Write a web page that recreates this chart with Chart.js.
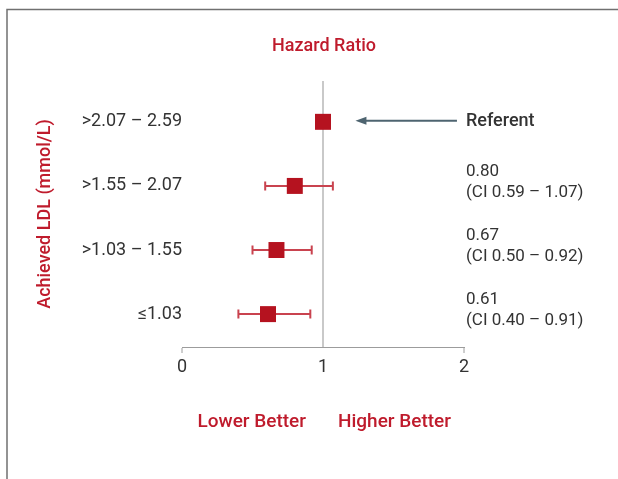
<!DOCTYPE html>
<html>
<head>
<meta charset="utf-8">
<title>Hazard Ratio by Achieved LDL</title>
<script src="https://cdn.jsdelivr.net/npm/chart.js@4"></script>
<style>
  html, body { margin: 0; padding: 0; background: #ffffff; }
  #wrap { position: relative; width: 618px; height: 479px; }
</style>
</head>
<body>
<div id="wrap"><canvas id="chart" width="618" height="479"></canvas></div>
<script>
// Achieved LDL groups, top row first
const categories = ['>2.07 – 2.59', '>1.55 – 2.07', '>1.03 – 1.55', '≤1.03'];
// Hazard ratio point estimates and 95% confidence limits
const hazardRatio = [1.00, 0.80, 0.67, 0.61];
const ciLow = [null, 0.59, 0.50, 0.40];
const ciHigh = [null, 1.07, 0.92, 0.91];
// Right-hand annotations per row
const hrLabels = ['Referent', '0.80', '0.67', '0.61'];
const ciLabels = [null, '(CI 0.59 – 1.07)', '(CI 0.50 – 0.92)', '(CI 0.40 – 0.91)'];
// Hazard ratio axis ticks
const xTicks = [0, 1, 2];

const RED = '#b5121f';
const WHISKER = '#c9434f';
const TEXT = '#333333';
const TITLE_RED = '#bf1b2c';
const FONT = 'Roboto, "Open Sans", sans-serif';

// row index -> y value (top row = highest)
const rowValue = i => categories.length - i;

const points = hazardRatio.map((v, i) => ({ x: v, y: rowValue(i) }));

const framePlugin = {
  id: 'frame',
  beforeDraw(chart) {
    const ctx = chart.ctx;
    ctx.save();
    ctx.fillStyle = '#ffffff';
    ctx.fillRect(0, 0, chart.width, chart.height);
    ctx.strokeStyle = '#707070';
    ctx.lineWidth = 1.5;
    ctx.beginPath();
    ctx.moveTo(chart.width, 9.5);
    ctx.lineTo(7, 9.5);
    ctx.lineTo(7, chart.height);
    ctx.stroke();
    ctx.restore();
  }
};

const errorBarPlugin = {
  id: 'errorBars',
  beforeDatasetsDraw(chart) {
    const ctx = chart.ctx;
    const xs = chart.scales.x, ys = chart.scales.y;
    ctx.save();
    ctx.strokeStyle = WHISKER;
    ctx.lineWidth = 2;
    hazardRatio.forEach((v, i) => {
      if (ciLow[i] == null) return;
      const y = ys.getPixelForValue(rowValue(i));
      const x0 = xs.getPixelForValue(ciLow[i]);
      const x1 = xs.getPixelForValue(ciHigh[i]);
      ctx.beginPath();
      ctx.moveTo(x0, y); ctx.lineTo(x1, y);
      ctx.moveTo(x0, y - 4.5); ctx.lineTo(x0, y + 4.5);
      ctx.moveTo(x1, y - 4.5); ctx.lineTo(x1, y + 4.5);
      ctx.stroke();
    });
    ctx.restore();
  }
};

const annotationPlugin = {
  id: 'annotations',
  afterDraw(chart) {
    const ctx = chart.ctx;
    const xs = chart.scales.x, ys = chart.scales.y;
    const xOne = xs.getPixelForValue(1);
    const xRight = xs.getPixelForValue(2) + 2;
    ctx.save();
    ctx.textBaseline = 'middle';

    // chart title
    ctx.fillStyle = TITLE_RED;
    ctx.font = '500 18px ' + FONT;
    ctx.textAlign = 'center';
    ctx.fillText('Hazard Ratio', xOne + 1, 46);

    // direction labels under the axis
    ctx.font = '500 19px ' + FONT;
    ctx.textAlign = 'right';
    ctx.fillText('Lower Better', xOne - 17, 422);
    ctx.textAlign = 'left';
    ctx.fillText('Higher Better', xOne + 15, 422);

    // per-row estimates
    ctx.fillStyle = TEXT;
    hrLabels.forEach((t, i) => {
      const y = ys.getPixelForValue(rowValue(i));
      if (ciLabels[i] == null) {
        ctx.font = '500 18px ' + FONT;
        ctx.fillText(t, xRight, y);
      } else {
        ctx.font = '17px ' + FONT;
        ctx.fillText(t, xRight, y - 14);
        ctx.fillText(ciLabels[i], xRight, y + 7);
      }
    });

    // arrow pointing to the referent marker
    const ay = ys.getPixelForValue(rowValue(0)) - 1;
    const tip = xs.getPixelForValue(1.23);
    const tail = xs.getPixelForValue(1.95);
    ctx.strokeStyle = '#4e6470';
    ctx.fillStyle = '#4e6470';
    ctx.lineWidth = 2;
    ctx.beginPath();
    ctx.moveTo(tail, ay);
    ctx.lineTo(tip + 8, ay);
    ctx.stroke();
    ctx.beginPath();
    ctx.moveTo(tip, ay);
    ctx.lineTo(tip + 11, ay - 4);
    ctx.lineTo(tip + 11, ay + 4);
    ctx.closePath();
    ctx.fill();
    ctx.restore();
  }
};

new Chart(document.getElementById('chart'), {
  type: 'scatter',
  data: {
    datasets: [{
      data: points,
      pointStyle: 'rect',
      pointRadius: 11.3,
      pointHoverRadius: 11.3,
      pointBackgroundColor: RED,
      pointBorderWidth: 0,
      borderWidth: 0
    }]
  },
  options: {
    responsive: false,
    animation: false,
    events: [],
    layout: { padding: { top: 81, right: 154, left: 0, bottom: 0 } },
    plugins: { legend: { display: false }, tooltip: { enabled: false }, title: { display: false } },
    scales: {
      x: {
        type: 'linear',
        min: 0,
        max: 2,
        afterBuildTicks(scale) { scale.ticks = xTicks.map(v => ({ value: v })); },
        afterFit(scale) { scale.height = 132; },
        border: { display: true, color: '#9c9c9c', width: 1 },
        grid: {
          drawOnChartArea: true,
          color: c => (c.tick && c.tick.value === 1 ? '#c9c9c9' : 'rgba(0,0,0,0)'),
          lineWidth: 2,
          tickLength: 6,
          tickWidth: 1,
          tickColor: c => (c.tick && c.tick.value === 1 ? 'rgba(0,0,0,0)' : '#9c9c9c')
        },
        ticks: {
          color: TEXT,
          font: { family: FONT, size: 18 },
          padding: 4,
          callback: v => String(v)
        }
      },
      y: {
        type: 'linear',
        min: 0.487,
        max: 4.637,
        afterBuildTicks(scale) { scale.ticks = categories.map((c, i) => ({ value: rowValue(i) })); },
        afterFit(scale) { scale.width = 182; },
        border: { display: false },
        grid: { display: false, drawTicks: false },
        ticks: {
          color: TEXT,
          font: { family: FONT, size: 18 },
          padding: 0,
          callback: v => categories[categories.length - v]
        },
        title: {
          display: true,
          text: 'Achieved LDL (mmol/L)',
          color: TITLE_RED,
          font: { family: FONT, size: 18, weight: '500' },
          padding: { top: 35, bottom: 0 }
        }
      }
    }
  },
  plugins: [framePlugin, errorBarPlugin, annotationPlugin]
});
</script>
</body>
</html>
